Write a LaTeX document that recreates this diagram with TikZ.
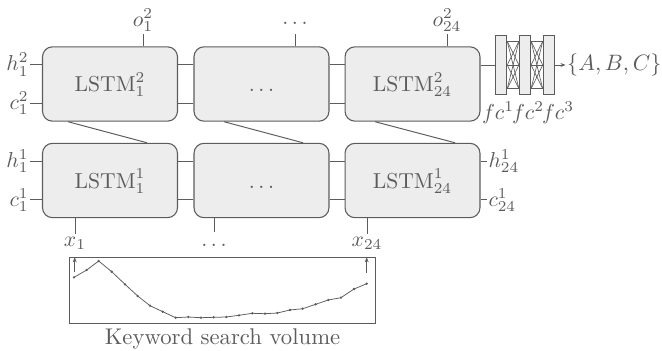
\documentclass[tikz,border=0pt]{standalone}
\usetikzlibrary{arrows.meta,calc}
\definecolor{ink}{gray}{0.36}
\definecolor{cellfill}{gray}{0.93}
\tikzset{
  cell/.style={draw=ink, fill=cellfill, line width=0.5pt, rounded corners=4.6pt,
    minimum width=62.4pt, minimum height=34.4pt, inner sep=0pt, text=ink,
    text height=7.8pt, text depth=0.8pt},
  wire/.style={draw=ink, line width=0.45pt},
  lbl/.style={text=ink, inner sep=1pt},
  fcbar/.style={draw=ink, fill=cellfill, line width=0.5pt, minimum width=5.1pt,
    minimum height=27.7pt, inner sep=0pt},
  mesh/.style={draw=ink, line width=0.3pt},
  tip/.style={-{Stealth[length=2.4pt,width=1.8pt]}},
}
\begin{document}
\begin{tikzpicture}[x=0.4625pt,y=-0.4625pt]
\useasboundingbox (0,0) rectangle (662,350);

% two stacked rows of LSTM cells
\node[cell] (t1) at (110,84) {$\mathrm{LSTM}_1^2$};
\node[cell] (t2) at (261.5,84) {$\dots$};
\node[cell] (t3) at (412.5,84) {$\mathrm{LSTM}_{24}^2$};
\node[cell] (b1) at (110,180.5) {$\mathrm{LSTM}_1^1$};
\node[cell] (b2) at (261.5,180.5) {$\dots$};
\node[cell] (b3) at (412.5,180.5) {$\mathrm{LSTM}_{24}^1$};

% hidden and cell state wires along each row
\foreach \r in {t,b} {
  \draw[wire] ([yshift=9pt]\r1.east) -- ([yshift=9pt]\r2.west);
  \draw[wire] ([yshift=-9pt]\r1.east) -- ([yshift=-9pt]\r2.west);
  \draw[wire] ([yshift=9pt]\r2.east) -- ([yshift=9pt]\r3.west);
  \draw[wire] ([yshift=-9pt]\r2.east) -- ([yshift=-9pt]\r3.west);
}

% links from the first layer to the second
\draw[wire] ([xshift=-19.4pt]t1.south) -- ([xshift=17.1pt]b1.north);
\draw[wire] ([xshift=-17.3pt]t2.south) -- ([xshift=19.2pt]b2.north);
\draw[wire] ([xshift=-17.3pt]t3.south) -- ([xshift=19.7pt]b3.north);

% initial states
\node[lbl,anchor=east,inner sep=0.5pt] (h2) at ([xshift=-5.5pt,yshift=9pt]t1.west) {$h_1^2$};
\node[lbl,anchor=east,inner sep=0.5pt] (c2) at ([xshift=-5.5pt,yshift=-9pt]t1.west) {$c_1^2$};
\node[lbl,anchor=east,inner sep=0.5pt] (h1) at ([xshift=-5.5pt,yshift=9pt]b1.west) {$h_1^1$};
\node[lbl,anchor=east,inner sep=0.5pt] (c1) at ([xshift=-5.5pt,yshift=-9pt]b1.west) {$c_1^1$};
\draw[wire] (h2.east) -- (h2.east -| t1.west);
\draw[wire] (c2.east) -- (c2.east -| t1.west);
\draw[wire] (h1.east) -- (h1.east -| b1.west);
\draw[wire] (c1.east) -- (c1.east -| b1.west);

% final states of the first layer
\node[lbl,anchor=west,inner sep=0.5pt] (h24) at ([xshift=3pt,yshift=9pt]b3.east) {$h_{24}^1$};
\node[lbl,anchor=west,inner sep=0.5pt] (c24) at ([xshift=3pt,yshift=-9pt]b3.east) {$c_{24}^1$};
\draw[wire] (h24.west -| b3.east) -- (h24.west);
\draw[wire] (c24.west -| b3.east) -- (c24.west);

% outputs of the second layer
\node[lbl] (o1) at (143,20) {$o_1^2$};
\node[lbl] (o2) at (295,23) {$\dots$};
\node[lbl] (o3) at (447,20) {$o_{24}^2$};
\draw[wire] (o1.south |- t1.north) -- (o1.south);
\draw[wire] (o2.south |- t2.north) -- ([yshift=-3.5pt]o2.south);
\draw[wire] (o3.south |- t3.north) -- (o3.south);

% inputs
\node[lbl] (x1) at (75,243) {$x_1$};
\node[lbl] (x2) at (214,245) {$\dots$};
\node[lbl] (x3) at (367,243) {$x_{24}$};
\draw[wire] (x1.north |- b1.south) -- (x1.north);
\draw[wire] (x2.north |- b2.south) -- ([yshift=4.4pt]x2.north);
\draw[wire] (x3.north |- b3.south) -- (x3.north);

% search volume series
\node[draw=ink, line width=0.5pt, minimum width=141.1pt, minimum height=30.3pt,
  inner sep=0pt] (chart) at (222.5,290.5) {};
\node[lbl,anchor=north,inner sep=2pt,scale=1.05] (cap) at (chart.south) {Keyword search volume};
\draw[ink, line width=0.35pt] plot[mark=*, mark size=0.35pt] coordinates {
  (74,277.3) (86.7,270) (98.7,261) (111.7,271.7) (125,284.3) (137.7,296)
  (150,305.7) (162.7,311.7) (175.7,317.7) (188.3,317) (201,317.7) (213.7,317.3)
  (226.3,317) (239,315.3) (252.3,313.3) (265,313.7) (277.3,313) (290,310)
  (302.7,308.7) (315.7,304.3) (328.3,300) (341,297.7) (354,289) (366.7,283.7)};
\coordinate (s1) at (74.7,272);
\coordinate (s24) at (366.7,273);
\draw[wire,tip] (s1) -- (s1 |- chart.north);
\draw[wire,tip] (s24) -- (s24 |- chart.north);

% fully connected head
\node[fcbar] (f1) at (501.2,65) {};
\node[fcbar] (f2) at (525,65) {};
\node[fcbar] (f3) at (548.8,65) {};
\draw[wire] (t3.east |- f1.west) -- (f1.west);
\foreach \a in {-11,0,11} {
  \foreach \b in {-11,0,11} {
    \draw[mesh] ([yshift=\a pt]f1.east) -- ([yshift=\b pt]f2.west);
    \draw[mesh] ([yshift=\a pt]f2.east) -- ([yshift=\b pt]f3.west);
  }
}
\node[lbl] (n1) at (498,113) {$fc^1$};
\node[lbl] (n2) at (528,113) {$fc^2$};
\node[lbl] (n3) at (558,113) {$fc^3$};
\node[lbl,anchor=west,inner sep=0.5pt,scale=1.03] (abc) at ([xshift=5pt]f3.east) {$\{A,B,C\}$};
\draw[wire,tip] (f3.east) -- (abc.west);
\end{tikzpicture}
\end{document}
